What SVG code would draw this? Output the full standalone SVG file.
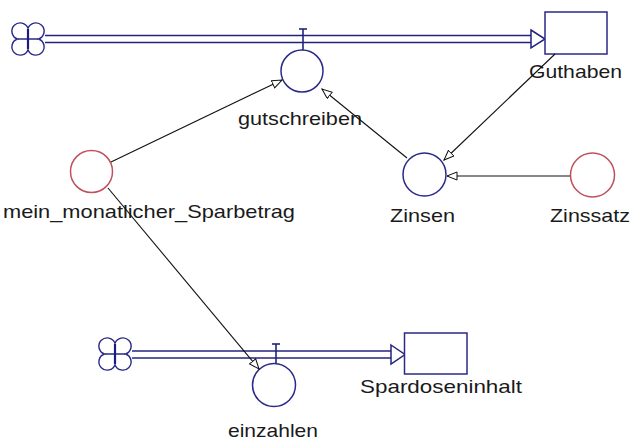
<svg xmlns="http://www.w3.org/2000/svg" xmlns:xlink="http://www.w3.org/1999/xlink" width="636" height="442" viewBox="0 0 636 442">
  <style>
    .pipe { stroke: #23237e; stroke-width: 1.6; fill: none; }
    .head { stroke: #23237e; stroke-width: 1.5; fill: #ffffff; }
    .stock { stroke: #2a2a8a; stroke-width: 1.5; fill: #ffffff; }
    .aux { stroke: #2a2a8a; stroke-width: 1.5; fill: #ffffff; }
    .const { stroke: #c0505c; stroke-width: 1.5; fill: #ffffff; }
    .valve { stroke: #23237e; stroke-width: 1.6; fill: none; }
    .link { stroke: #111111; stroke-width: 1.1; fill: none; marker-end: url(#tip); }
    .label { font-family: "Liberation Sans", Arial, sans-serif; font-size: 19px; fill: #1a1a1a; }
  </style>
  <defs>
    <marker id="tip" markerUnits="userSpaceOnUse" markerWidth="12" markerHeight="10" refX="10.5" refY="4.5" orient="auto">
      <path d="M0.5,0.5 L10.5,4.5 L0.5,8.5 Z" fill="#ffffff" stroke="#111111" stroke-width="1"/>
    </marker>
    <!-- source/sink cloud: four lobes with a dark cross where they meet -->
    <g id="cloud">
      <path d="M0,-10.64 A8.3,8.3 0 1 1 10.64,0 A8.3,8.3 0 1 1 0,10.64 A8.3,8.3 0 1 1 -10.64,0 A8.3,8.3 0 1 1 0,-10.64 Z" fill="#ffffff" stroke="#2a2a8a" stroke-width="1.4"/>
      <line x1="0" y1="-10" x2="0" y2="10" stroke="#1a1a80" stroke-width="2.2"/>
      <line x1="-10" y1="0" x2="10" y2="0" stroke="#1a1a80" stroke-width="1.4"/>
    </g>
  </defs>

  <rect width="636" height="442" fill="#ffffff"/>

  <!-- flows -->
  <g id="flow-gutschreiben">
    <use xlink:href="#cloud" x="28" y="39"/>
    <line class="pipe" x1="45" y1="35.5" x2="532" y2="35.5"/>
    <line class="pipe" x1="45" y1="42.5" x2="532" y2="42.5"/>
    <polygon class="head" points="531,30 545,39 531,48"/>
    <line class="valve" x1="303" y1="29" x2="303" y2="50"/>
    <line class="valve" x1="299" y1="29" x2="307" y2="29"/>
    <circle class="aux" cx="302" cy="71" r="21"/>
    <text class="label" x="238" y="125" textLength="124" lengthAdjust="spacingAndGlyphs">gutschreiben</text>
  </g>

  <g id="flow-einzahlen">
    <use xlink:href="#cloud" x="115" y="354"/>
    <line class="pipe" x1="132" y1="351" x2="392" y2="351"/>
    <line class="pipe" x1="132" y1="358" x2="392" y2="358"/>
    <polygon class="head" points="391,345 405,354.5 391,364"/>
    <line class="valve" x1="276" y1="344" x2="276" y2="364"/>
    <line class="valve" x1="272" y1="344" x2="280" y2="344"/>
    <circle class="aux" cx="274" cy="385" r="21.5"/>
    <text class="label" x="228" y="437" textLength="90" lengthAdjust="spacingAndGlyphs">einzahlen</text>
  </g>

  <!-- stocks -->
  <g id="Guthaben">
    <rect class="stock" x="545" y="12" width="62" height="42"/>
    <text class="label" x="529" y="78" textLength="93" lengthAdjust="spacingAndGlyphs">Guthaben</text>
  </g>

  <g id="Spardoseninhalt">
    <rect class="stock" x="404.5" y="333" width="62.5" height="41"/>
    <text class="label" x="360" y="393" textLength="162" lengthAdjust="spacingAndGlyphs">Spardoseninhalt</text>
  </g>

  <!-- auxiliaries and constants -->
  <g id="mein_monatlicher_Sparbetrag">
    <circle class="const" cx="91.5" cy="171.5" r="21"/>
    <text class="label" x="3" y="218" textLength="292" lengthAdjust="spacingAndGlyphs">mein_monatlicher_Sparbetrag</text>
  </g>

  <g id="Zinsen">
    <circle class="aux" cx="424.5" cy="174.5" r="21.5" stroke="#111111"/>
    <text class="label" x="390" y="222" textLength="65" lengthAdjust="spacingAndGlyphs">Zinsen</text>
  </g>

  <g id="Zinssatz">
    <circle class="const" cx="592.5" cy="175" r="22"/>
    <text class="label" x="550" y="222" textLength="80" lengthAdjust="spacingAndGlyphs">Zinssatz</text>
  </g>

  <!-- information links -->
  <g id="connectors">
    <line class="link" x1="111" y1="162" x2="282" y2="80"/>
    <line class="link" x1="108" y1="188" x2="259" y2="369"/>
    <line class="link" x1="407" y1="158" x2="322" y2="89"/>
    <line class="link" x1="555" y1="54" x2="444" y2="160"/>
    <line class="link" x1="570" y1="176" x2="447" y2="176"/>
  </g>
</svg>
